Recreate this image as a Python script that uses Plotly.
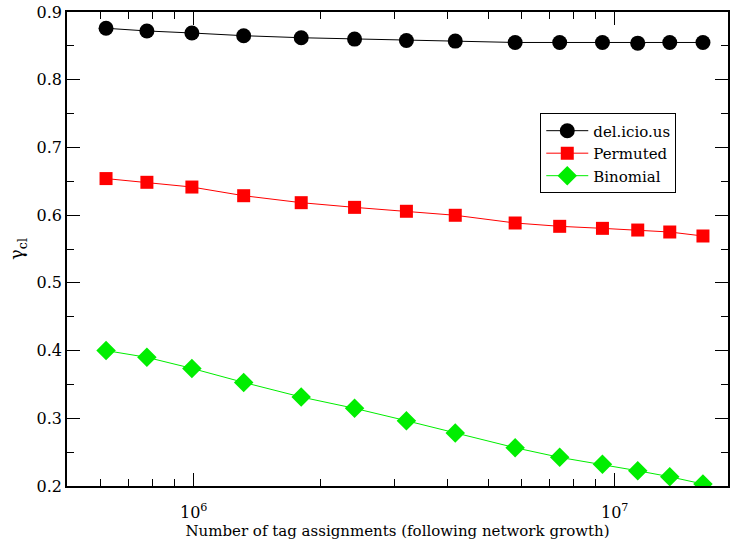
import plotly.graph_objects as go
import math

x_vals = [6.19e5, 7.74e5, 9.9e5, 1.314e6, 1.80e6, 2.41e6, 3.20e6, 4.18e6,
          5.80e6, 7.40e6, 9.35e6, 1.134e7, 1.351e7, 1.62e7]
delicious = [0.876, 0.872, 0.869, 0.865, 0.862, 0.860, 0.858, 0.857,
             0.855, 0.855, 0.855, 0.854, 0.855, 0.855]
permuted = [0.654, 0.6485, 0.6415, 0.6287, 0.6184, 0.6115, 0.6057, 0.5998,
            0.5884, 0.5835, 0.5805, 0.578, 0.5751, 0.5692]
binomial = [0.400, 0.390, 0.3737, 0.353, 0.3314, 0.3147, 0.2964, 0.2782,
            0.2565, 0.2423, 0.2320, 0.2225, 0.2137, 0.2029]

x_major = [1e6, 1e7]
x_major_text = ["10<sup>6</sup>", "10<sup>7</sup>"]
x_minor = [m * 10 ** e for e in (5, 6, 7) for m in range(2, 10)]
y_major = [0.2, 0.3, 0.4, 0.5, 0.6, 0.7, 0.8, 0.9]
y_minor = [0.25, 0.35, 0.45, 0.55, 0.65, 0.75, 0.85]

FONT = "DejaVu Serif"

fig = go.Figure()
fig.add_trace(go.Scatter(x=x_vals, y=delicious, name="del.icio.us", mode="lines+markers",
                         line=dict(color="black", width=1),
                         marker=dict(symbol="circle", size=15, color="black")))
fig.add_trace(go.Scatter(x=x_vals, y=permuted, name="Permuted", mode="lines+markers",
                         line=dict(color="red", width=1),
                         marker=dict(symbol="square", size=13, color="red")))
fig.add_trace(go.Scatter(x=x_vals, y=binomial, name="Binomial", mode="lines+markers",
                         line=dict(color="#00ee00", width=1),
                         marker=dict(symbol="diamond", size=15, color="#00ee00")))

fig.update_layout(
    width=737, height=544,
    margin=dict(l=67, r=9, t=12, b=58, autoexpand=False),
    paper_bgcolor="white", plot_bgcolor="white",
    font=dict(family=FONT, size=15, color="black"),
    showlegend=True,
    legend=dict(x=0.716, y=0.786, xanchor="left", yanchor="top",
                bordercolor="black", borderwidth=1, bgcolor="white",
                font=dict(family=FONT, size=15), tracegroupgap=0,
                itemwidth=42),
)
fig.update_xaxes(
    type="log", range=[math.log10(5e5), 7.269], automargin=False,
    tickmode="array", tickvals=x_major, ticktext=x_major_text,
    ticks="inside", ticklen=13, tickwidth=1, tickcolor="black",
    ticklabelstandoff=11,
    minor=dict(tickmode="array", tickvals=x_minor, ticks="inside", ticklen=7,
               tickwidth=1, tickcolor="black"),
    showline=True, linecolor="black", linewidth=1.5, mirror="ticks",
    showgrid=False, zeroline=False,
    tickfont=dict(family=FONT, size=16),
    title=dict(text="Number of tag assignments (following network growth)",
               font=dict(family=FONT, size=15), standoff=0),
)
fig.update_yaxes(
    range=[0.2, 0.9], automargin=False,
    tickmode="array", tickvals=y_major, ticktext=[f"{v:.1f}" for v in y_major],
    ticks="inside", ticklen=13, tickwidth=1, tickcolor="black",
    minor=dict(tickmode="array", tickvals=y_minor, ticks="inside", ticklen=7,
               tickwidth=1, tickcolor="black"),
    showline=True, linecolor="black", linewidth=1.5, mirror="ticks",
    showgrid=False, zeroline=False,
    tickfont=dict(family=FONT, size=16),
    title=dict(text="γ<sub>cl</sub>", font=dict(family=FONT, size=18), standoff=8),
)

fig.write_html("out.html", config={"displayModeBar": False},
               post_script="document.body.style.margin='0';")
